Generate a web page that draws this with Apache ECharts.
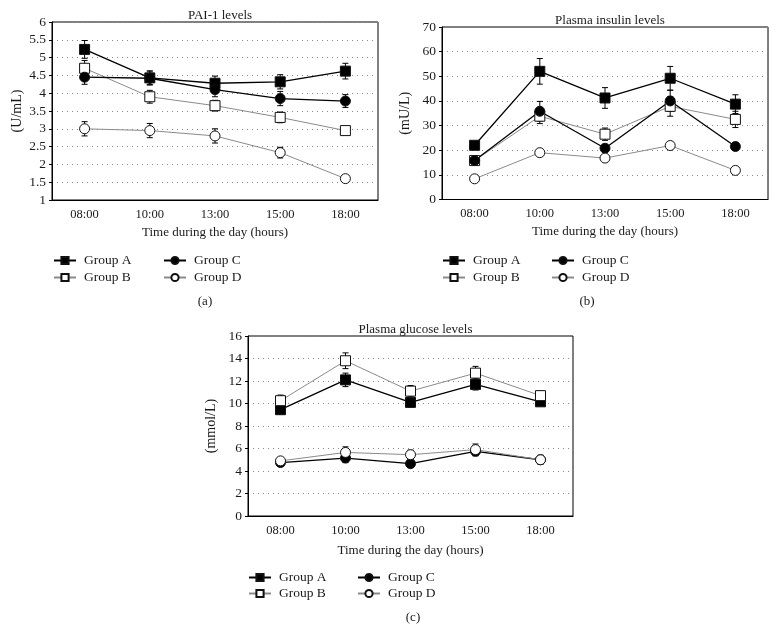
<!DOCTYPE html>
<html><head><meta charset="utf-8">
<script src="https://cdn.jsdelivr.net/npm/echarts@6/dist/echarts.min.js"></script>
<style>html,body{margin:0;padding:0;background:#fff}#c{width:776px;height:632px}</style>
</head><body><div id="c"></div>
<script>
const times = ['08:00','10:00','13:00','15:00','18:00'];
const groups = ['Group A','Group B','Group C','Group D'];

// PAI-1 levels (U/mL)
const paiA = [5.23, 4.43, 4.28, 4.32, 4.62];
const paiB = [4.70, 3.90, 3.65, 3.32, 2.95];
const paiC = [4.45, 4.42, 4.10, 3.85, 3.78];
const paiD = [3.00, 2.95, 2.80, 2.33, 1.60];
const paiAerr = [0.25, 0.20, 0.20, 0.20, 0.22];
const paiBerr = [0.22, 0.18, 0.15, 0.15, 0.10];
const paiCerr = [0.20, 0.18, 0.20, 0.20, 0.18];
const paiDerr = [0.20, 0.20, 0.20, 0.15, 0.05];

// Plasma insulin levels (mU/L)
const insA = [22.0, 52.0, 41.2, 49.2, 38.7];
const insB = [15.8, 33.8, 26.5, 37.8, 32.5];
const insC = [15.8, 35.8, 20.8, 40.0, 21.5];
const insD = [8.4, 19.0, 16.8, 21.9, 11.8];
const insAerr = [1.5, 5.2, 4.2, 4.8, 3.8];
const insBerr = [1.5, 3.0, 2.5, 4.0, 3.3];
const insCerr = [1.5, 4.0, 1.5, 4.3, 1.5];
const insDerr = [1.0, 1.3, 1.2, 1.5, 1.0];

// Plasma glucose levels (mmol/L)
const gluA = [9.45, 12.1, 10.1, 11.7, 10.15];
const gluB = [10.25, 13.8, 11.1, 12.7, 10.7];
const gluC = [4.75, 5.15, 4.65, 5.75, 5.0];
const gluD = [4.9, 5.65, 5.45, 5.9, 5.0];
const gluAerr = [0.4, 0.6, 0.4, 0.5, 0.3];
const gluBerr = [0.5, 0.7, 0.5, 0.6, 0.4];
const gluCerr = [0.3, 0.4, 0.3, 0.4, 0.3];
const gluDerr = [0.3, 0.5, 0.4, 0.5, 0.4];

const panels = [
  {title:'PAI-1 levels', unit:'(U/mL)', min:1, max:6, interval:0.5,
   vals:[paiA,paiB,paiC,paiD], errs:[paiAerr,paiBerr,paiCerr,paiDerr]},
  {title:'Plasma insulin levels', unit:'(mU/L)', min:0, max:70, interval:10,
   vals:[insA,insB,insC,insD], errs:[insAerr,insBerr,insCerr,insDerr]},
  {title:'Plasma glucose levels', unit:'(mmol/L)', min:0, max:16, interval:2,
   vals:[gluA,gluB,gluC,gluD], errs:[gluAerr,gluBerr,gluCerr,gluDerr]}
];

const FONT = 'Liberation Serif';
const TXT = '#1a1a1a';
const grids = [
  {left:52, top:22, width:326, height:178},
  {left:442, top:27, width:326, height:172.5},
  {left:248, top:336, width:325, height:180}
];
const yNameGap = [28, 30, 30];
const xNameGap = [26, 26, 28];
const styles = [
  {symbol:'rect', fill:'#000', line:'#000', lw:1.3, size:10},
  {symbol:'rect', fill:'#fff', line:'#8a8a8a', lw:1, size:10},
  {symbol:'circle', fill:'#000', line:'#000', lw:1.3, size:10},
  {symbol:'circle', fill:'#fff', line:'#8a8a8a', lw:1, size:10}
];

function errRender(params, api){
  const x = api.value(0), lo = api.value(1), hi = api.value(2);
  const p1 = api.coord([x, hi]), p2 = api.coord([x, lo]);
  const w = 3, st = {stroke:'#000', lineWidth:1};
  return {type:'group', children:[
    {type:'line', shape:{x1:p1[0], y1:p1[1], x2:p2[0], y2:p2[1]}, style:st},
    {type:'line', shape:{x1:p1[0]-w, y1:p1[1], x2:p1[0]+w, y2:p1[1]}, style:st},
    {type:'line', shape:{x1:p2[0]-w, y1:p2[1], x2:p2[0]+w, y2:p2[1]}, style:st}
  ]};
}

const option = {
  animation:false,
  textStyle:{fontFamily:FONT},
  title:[], grid:[], xAxis:[], yAxis:[], series:[], legend:[], graphic:[]
};

const titleTops = [4, 9, 318];
panels.forEach((p, i) => {
  const g = grids[i];
  option.grid.push(Object.assign({show:true, borderColor:'#000', borderWidth:1, backgroundColor:'transparent', containLabel:false}, g));
  option.title.push({text:p.title, left:g.left + g.width/2, top:titleTops[i], textAlign:'center',
    textStyle:{fontFamily:FONT, fontSize:13, fontWeight:'normal', color:TXT}});
  option.xAxis.push({type:'category', gridIndex:i, data:times, boundaryGap:true,
    name:'Time during the day (hours)', nameLocation:'middle', nameGap:xNameGap[i],
    nameTextStyle:{fontFamily:FONT, fontSize:13, color:TXT},
    axisLine:{lineStyle:{color:'#000', width:1}},
    axisTick:{inside:true, length:4, lineStyle:{color:'#000'}},
    axisLabel:{fontFamily:FONT, fontSize:12.5, color:TXT, margin:8},
    splitLine:{show:false}});
  option.yAxis.push({type:'value', gridIndex:i, min:p.min, max:p.max, interval:p.interval,
    name:p.unit, nameLocation:'middle', nameGap:yNameGap[i], nameRotate:90,
    nameTextStyle:{fontFamily:FONT, fontSize:14, color:TXT},
    axisLine:{show:true, lineStyle:{color:'#000', width:1}},
    axisTick:{show:true, inside:false, length:3, lineStyle:{color:'#000'}},
    axisLabel:{fontFamily:FONT, fontSize:13.5, color:TXT, margin:6},
    splitLine:{show:true, lineStyle:{color:'#888', width:1, type:[1,4]}}});
  groups.forEach((name, k) => {
    const s = styles[k];
    option.series.push({type:'line', name:name, xAxisIndex:i, yAxisIndex:i, data:p.vals[k],
      symbol:s.symbol, symbolSize:s.size, showSymbol:true, z:5,
      lineStyle:{color:s.line, width:s.lw},
      itemStyle:{color:s.fill, borderColor:'#111', borderWidth:1},
      emphasis:{disabled:true}});
  });
  groups.forEach((name, k) => {
    option.series.push({type:'custom', xAxisIndex:i, yAxisIndex:i, z:2,
      renderItem:errRender, encode:{x:0, y:[1,2]},
      data:p.vals[k].map((v, j) => [j, v - p.errs[k][j], v + p.errs[k][j]])});
  });
});

const legendPos = [
  {cols:[53, 163], top:253},
  {cols:[442, 551], top:253},
  {cols:[248, 357], top:570}
];
const legendGap = [2, 2, 1];
legendPos.forEach((lp, i) => {
  [[groups[0], groups[1]], [groups[2], groups[3]]].forEach((d, c) => {
    option.legend.push({data:d, orient:'vertical', left:lp.cols[c], top:lp.top, padding:0,
      itemWidth:22, itemHeight:9, itemGap:legendGap[i], selectedMode:false,
      textStyle:{fontFamily:FONT, fontSize:13.5, color:TXT, lineHeight:15, padding:[0,0,0,3]}});
  });
});

const subLabels = [['(a)', 205, 302], ['(b)', 587, 302], ['(c)', 413, 618]];
subLabels.forEach(s => {
  option.graphic.push({type:'text', x:s[1], y:s[2], style:{text:s[0], font:'13px "Liberation Serif"', fill:TXT, align:'center', verticalAlign:'middle'}});
});

const chart = echarts.init(document.getElementById('c'), null, {renderer:'canvas'});
chart.setOption(option);
</script>
</body></html>
